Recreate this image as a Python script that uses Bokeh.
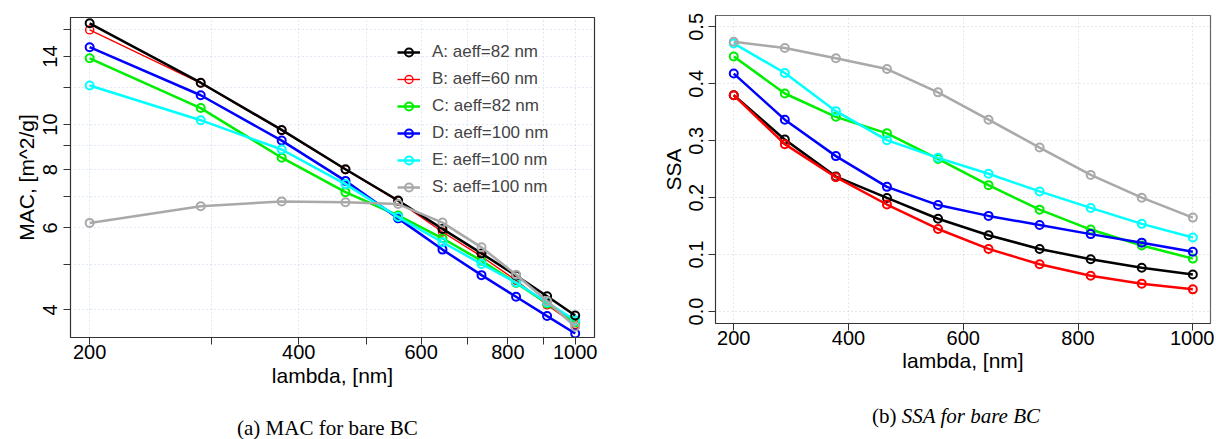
from bokeh.plotting import figure
from bokeh.models import FixedTicker, Range1d, Legend, LegendItem, Div, PrintfTickFormatter
from bokeh.layouts import row, column
from bokeh.embed import file_html
from bokeh.resources import INLINE

# ---------------- data ----------------
wavelength = [200, 289, 378, 467, 556, 644, 733, 822, 911, 1000]

series_names = ["A", "B", "C", "D", "E", "S"]
series_labels = ["A: aeff=82 nm", "B: aeff=60 nm", "C: aeff=82 nm",
                 "D: aeff=100 nm", "E: aeff=100 nm", "S: aeff=100 nm"]
series_colors = ["#000000", "#ff0000", "#00ee00", "#0000ff", "#00ffff", "#a9a9a9"]

mac_A = [16.5, 12.3, 9.74, 8.02, 6.87, 5.97, 5.29, 4.74, 4.28, 3.89]
mac_B = [15.97, 12.28, 9.72, 8.0, 6.85, 5.88, 5.21, 4.63, 4.10, 3.72]
mac_C = [13.88, 10.85, 8.49, 7.16, 6.38, 5.70, 5.10, 4.57, 4.13, 3.76]
mac_D = [14.66, 11.56, 9.24, 7.57, 6.29, 5.39, 4.75, 4.27, 3.88, 3.56]
mac_E = [12.13, 10.22, 8.84, 7.45, 6.33, 5.59, 5.02, 4.58, 4.15, 3.80]
mac_S = [6.15, 6.68, 6.84, 6.81, 6.75, 6.16, 5.45, 4.76, 4.18, 3.68]

ssa_A = [0.380, 0.302, 0.237, 0.1995, 0.163, 0.134, 0.110, 0.092, 0.077, 0.065]
ssa_B = [0.380, 0.294, 0.236, 0.188, 0.145, 0.110, 0.083, 0.063, 0.049, 0.039]
ssa_C = [0.448, 0.383, 0.342, 0.313, 0.268, 0.222, 0.179, 0.144, 0.116, 0.093]
ssa_D = [0.418, 0.337, 0.273, 0.219, 0.187, 0.168, 0.152, 0.136, 0.121, 0.105]
ssa_E = [0.471, 0.419, 0.352, 0.301, 0.270, 0.242, 0.211, 0.182, 0.154, 0.130]
ssa_S = [0.474, 0.463, 0.445, 0.426, 0.385, 0.337, 0.288, 0.240, 0.200, 0.165]

mac_ticks = [4, 5, 6, 7, 8, 9, 10, 12, 14, 16]
mac_tick_labels = ["4", "", "6", "", "8", "", "10", "", "14", ""]
lam_ticks_left = [200, 300, 400, 500, 600, 700, 800, 900, 1000]
lam_tick_labels_left = ["200", "", "400", "", "600", "", "800", "", "1000"]
lam_ticks_right = [200, 400, 600, 800, 1000]
ssa_ticks = [0.0, 0.1, 0.2, 0.3, 0.4, 0.5]

caption_a = "(a) MAC for bare BC"
caption_b_prefix = "(b)"
caption_b_italic = "SSA for bare BC"

mac_series = [mac_A, mac_B, mac_C, mac_D, mac_E, mac_S]
ssa_series = [ssa_A, ssa_B, ssa_C, ssa_D, ssa_E, ssa_S]
mac_widths = [2.5, 1.4, 2.5, 2.5, 2.5, 2.5]

FONT = "Liberation Sans"


def style_axes(p, grid_color, x_label_standoff, x_axis_label_standoff,
               y_label_standoff, y_axis_label_standoff):
    for ax in (p.xaxis[0], p.yaxis[0]):
        ax.major_label_text_font = FONT
        ax.major_label_text_font_size = "20px"
        ax.major_label_text_color = "#000000"
        ax.axis_label_text_font = FONT
        ax.axis_label_text_font_size = "21px"
        ax.axis_label_text_font_style = "normal"
        ax.axis_label_text_color = "#000000"
        ax.major_tick_out = 7
        ax.major_tick_in = 0
        ax.minor_tick_line_color = None
        ax.major_tick_line_color = "#333333"
        ax.axis_line_color = "#333333"
    p.xaxis.major_label_standoff = x_label_standoff
    p.xaxis.axis_label_standoff = x_axis_label_standoff
    p.yaxis.major_label_standoff = y_label_standoff
    p.yaxis.axis_label_standoff = y_axis_label_standoff
    p.yaxis.major_label_orientation = "vertical"
    p.outline_line_color = "#333333"
    p.outline_line_width = 1.2
    for g in (p.xgrid[0], p.ygrid[0]):
        g.grid_line_color = grid_color
        g.grid_line_dash = "1 3"
        g.grid_line_width = 1
    p.background_fill_color = "white"
    p.border_fill_color = "white"


# ---------------- left panel: MAC ----------------
p1 = figure(width=600, height=399, x_axis_type="log", y_axis_type="log",
            x_range=Range1d(187.7, 1066), y_range=Range1d(3.49, 16.98),
            output_backend="svg", toolbar_location=None,
            min_border_left=70, min_border_right=6, min_border_top=17, min_border_bottom=62)
p1.xaxis.ticker = FixedTicker(ticks=lam_ticks_left)
p1.yaxis.ticker = FixedTicker(ticks=mac_ticks)
p1.xaxis.major_label_overrides = {t: l for t, l in zip(lam_ticks_left, lam_tick_labels_left)}
p1.yaxis.major_label_overrides = {t: l for t, l in zip(mac_ticks, mac_tick_labels)}
p1.xaxis.axis_label = "lambda, [nm]"
p1.yaxis.axis_label = "MAC, [m^2/g]"
style_axes(p1, "#c3d3ec", 0, 2, 6, 3)

draw_order_left = [1, 2, 3, 4, 0, 5]
left_renderers = {}
for i in draw_order_left:
    lr = p1.line(wavelength, mac_series[i], line_color=series_colors[i], line_width=mac_widths[i])
    sr = p1.scatter(wavelength, mac_series[i], marker="circle", size=8, fill_color=None,
                    line_color=series_colors[i], line_width=min(mac_widths[i], 2.0))
    left_renderers[i] = [lr, sr]

legend = Legend(items=[LegendItem(label=series_labels[i], renderers=left_renderers[i]) for i in range(6)],
                location=(327, 140), border_line_color=None, background_fill_alpha=0,
                label_text_font=FONT, label_text_font_size="17px",
                glyph_width=23, glyph_height=20, label_height=20, label_standoff=12,
                spacing=7, padding=0, margin=0)
p1.add_layout(legend)

# ---------------- right panel: SSA ----------------
p2 = figure(width=614, height=393, x_range=Range1d(168.2, 1030.8), y_range=Range1d(-0.021, 0.52),
            output_backend="svg", toolbar_location=None,
            min_border_left=115, min_border_right=4, min_border_top=15, min_border_bottom=70)
p2.xaxis.ticker = FixedTicker(ticks=lam_ticks_right)
p2.yaxis.ticker = FixedTicker(ticks=ssa_ticks)
p2.yaxis.formatter = PrintfTickFormatter(format="%.1f")
p2.xaxis.axis_label = "lambda, [nm]"
p2.yaxis.axis_label = "SSA"
style_axes(p2, "#d0d0d0", 0, 1, 5, 2)
p2.outline_line_color = "#666666"

for i in range(6):
    p2.line(wavelength, ssa_series[i], line_color=series_colors[i], line_width=2.5)
    p2.scatter(wavelength, ssa_series[i], marker="circle", size=8, fill_color=None,
               line_color=series_colors[i], line_width=2.0)

# ---------------- captions ----------------
cap_style = "font-family:'Liberation Serif';font-size:21px;line-height:16px;white-space:nowrap;color:#000;margin:0;"
div_a = Div(text=f"<div style=\"{cap_style}padding-left:237px;padding-top:21px;\">{caption_a}</div>",
            width=600, height=38, margin=0)
div_b = Div(text=f"<div style=\"{cap_style}padding-left:272px;padding-top:15px;\">{caption_b_prefix} <i>{caption_b_italic}</i></div>",
            width=614, height=38, margin=0)

layout = row(column(p1, div_a), column(p2, div_b))

with open("out.html", "w") as f:
    f.write(file_html(layout, INLINE))
